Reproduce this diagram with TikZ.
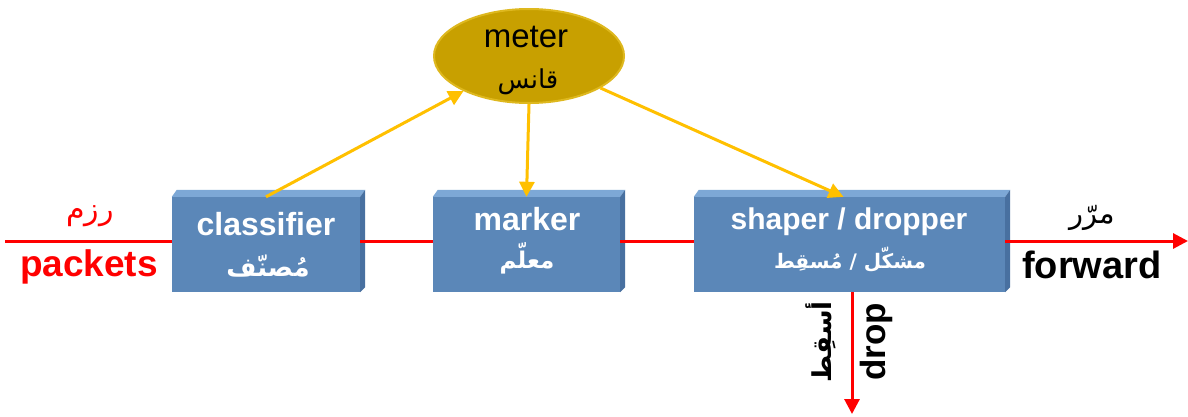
\documentclass[tikz,border=0pt]{standalone}
\usepackage{fontspec}
\setmainfont{Liberation Sans}
\newfontfamily\arf[Script=Arabic]{DejaVu Sans}
\TeXXeTstate=1
\usetikzlibrary{arrows.meta,shapes.geometric,calc}
\newcommand\fsz[1]{\fontsize{#1}{#1}\selectfont}
\definecolor{boxfront}{RGB}{91,135,184}
\definecolor{boxtop}{RGB}{125,168,214}
\definecolor{boxside}{RGB}{72,112,160}
\definecolor{gold}{RGB}{200,160,0}
\definecolor{goldedge}{RGB}{222,184,30}
\definecolor{arrowy}{RGB}{255,192,0}
\definecolor{pred}{RGB}{255,0,0}
\tikzset{
  box/.style={draw=none, fill=boxfront, minimum height=95pt, inner sep=0pt},
  boxtxt/.style={text=white, font=\bfseries\fsz{32}, inner sep=0pt, anchor=base},
  boxar/.style={text=white, font=\arf\bfseries\fsz{26}, inner sep=0pt, anchor=base},
  yarrow/.style={draw=arrowy, line width=3pt, -{Triangle[length=15pt,width=15pt]}},
  rline/.style={draw=pred, line width=3pt},
  rarrow/.style={draw=pred, line width=3pt, -{Triangle[length=15pt,width=15pt]}},
}
\newcommand\bevel[1]{%
  \fill[boxtop] (#1.north west) -- ++(5,-7) -- ($(#1.north east)+(5,-7)$) -- (#1.north east) -- cycle;
  \fill[boxside] (#1.north east) -- ++(5,-7) -- ($(#1.south east)+(5,-5)$) -- (#1.south east) -- cycle;
}
\begin{document}
\begin{tikzpicture}[x=1pt,y=-1pt]
\useasboundingbox (0,0) rectangle (1188,416);
\fill[white] (0,0) rectangle (1188,416);

% boxes
\node[box, minimum width=188pt] (cls) at (266,244.5) {};
\node[box, minimum width=187pt] (mrk) at (526.5,244.5) {};
\node[box, minimum width=311pt] (shp) at (849.5,244.5) {};
\bevel{cls}
\bevel{mrk}
\bevel{shp}

% meter
\node[ellipse, fill=gold, draw=goldedge, line width=2pt, minimum width=190pt, minimum height=94pt, inner sep=0pt] (meter) at (529,56) {};

% red lines
\coordinate (pin) at (5,241);
\coordinate (pout) at (1188,241);
\coordinate (dropend) at (852,414);
\draw[rline] (pin) -- (pin -| cls.west);
\draw[rline] (cls.east |- pin) -- (mrk.west |- pin);
\draw[rline] (mrk.east |- pin) -- (shp.west |- pin);
\draw[rarrow] (shp.east |- pin) -- (pout);
\draw[rarrow] (shp.south -| dropend) -- (dropend);

% yellow arrows
\draw[yarrow] (cls.north) -- (meter);
\draw[yarrow] (meter.south) -- (mrk.north);
\draw[yarrow] (meter) -- ($(shp.north)+(-6,0)$);

% texts in boxes
\node[boxtxt] (t1) at (266,235) {classifier};
\node[boxar] (a1) at (268,276) {\beginR مُصنّف\endR};
\node[boxtxt] (t2) at (527,230) {marker};
\node[boxar, font=\arf\bfseries\fsz{23}] (a2) at (527,268) {\beginR معلّم\endR};
\node[boxtxt, font=\bfseries\fsz{30}] (t3) at (849,229) {shaper / dropper};
\node[boxar, font=\arf\bfseries\fsz{20}] (a3) at (850,268) {\beginR مشكّل / مُسقِط\endR};

% meter text
\node[inner sep=0pt, anchor=base, font=\fsz{33}] (t4) at (526,47) {meter};
\node[inner sep=0pt, anchor=base, font=\arf\fsz{26}] (a4) at (528,88) {\beginR قانس\endR};

% outside labels
\node[inner sep=0pt, text=pred, font=\arf\fsz{30}] (a5) at (90,216) {\beginR رزم\endR};
\node[inner sep=0pt, anchor=base, text=pred, font=\bfseries\fsz{37}] (t5) at (89,276) {packets};
\node[inner sep=0pt, font=\arf\fsz{29}] (a6) at (1092,218) {\beginR مرّر\endR};
\node[inner sep=0pt, anchor=base, font=\bfseries\fsz{38}] (t6) at (1092,278) {forward};
\node[inner sep=0pt, rotate=90, font=\bfseries\fsz{35}] (t7) at (876,342) {drop};
\node[inner sep=0pt, rotate=90, font=\arf\bfseries\fsz{26}] (a7) at (821,342) {\beginR أسقِط\endR};
\end{tikzpicture}
\end{document}
